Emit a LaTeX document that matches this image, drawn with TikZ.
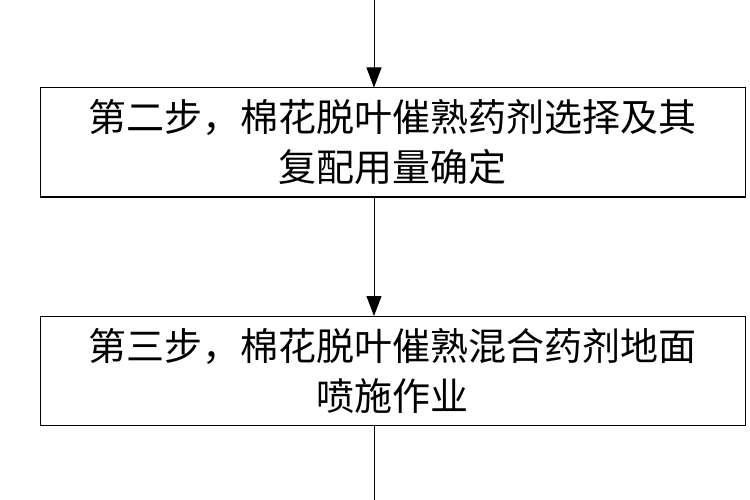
\documentclass[tikz,border=0pt]{standalone}
\usepackage{fontspec}
\newfontfamily\cjk{Noto Sans CJK SC}
\usetikzlibrary{positioning,arrows.meta}
\tikzset{stepbox/.style={draw=black, line width=1pt, rectangle, minimum width=705pt,
    minimum height=109pt, text width=680pt, align=center, inner sep=0pt,
    font=\cjk\fontsize{38}{50}\selectfont},
  flow/.style={-{Triangle[length=20pt,width=15pt]}, line width=1pt}}
\begin{document}
\begin{tikzpicture}[x=1pt,y=-1pt]
\useasboundingbox (0,0) rectangle (750,500);

\coordinate (Top) at (374,0);
\node[stepbox] (StepTwo) at (392.5,142.5) {第二步，棉花脱叶催熟药剂选择及其\\复配用量确定};
\node[stepbox] (StepThree) at (392.5,371) {第三步，棉花脱叶催熟混合药剂地面\\喷施作业};
\coordinate (Bottom) at (374,500);

\draw[flow] (Top) -- (Top |- StepTwo.north);
\draw[flow] (Top |- StepTwo.south) -- (Top |- StepThree.north);
\draw[line width=1pt] (Top |- StepThree.south) -- (Bottom);
\end{tikzpicture}
\end{document}
